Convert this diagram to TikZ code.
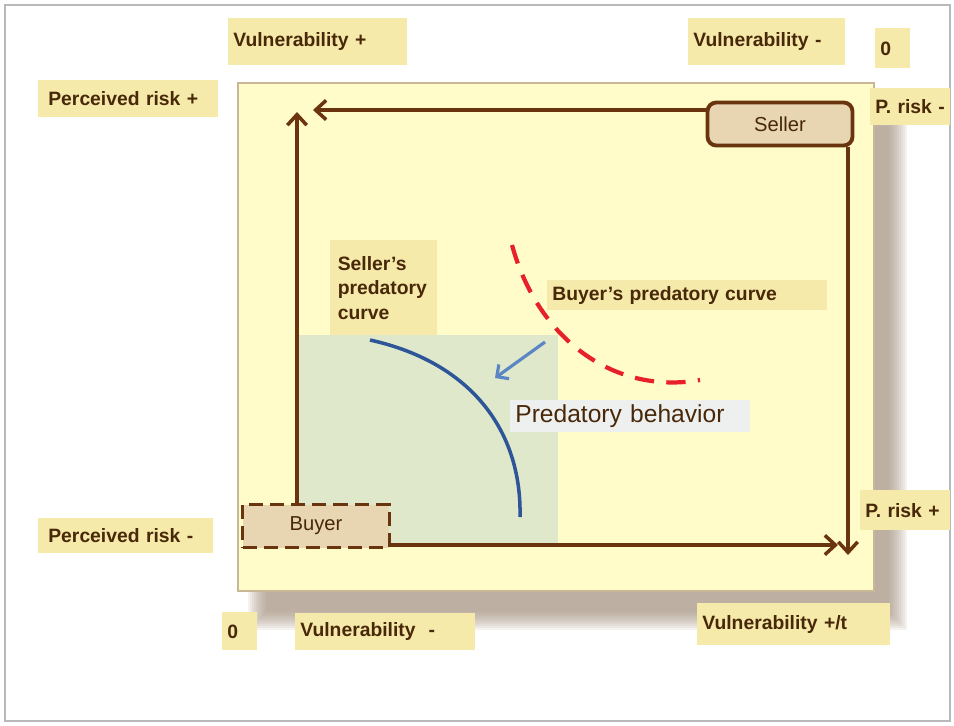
\documentclass[tikz,border=0pt]{standalone}
\usepackage{fontspec}
\setmainfont{Liberation Sans}
\usetikzlibrary{arrows.meta}

\definecolor{darkbrown}{RGB}{105,52,14}
\definecolor{textbrown}{RGB}{72,40,8}
\definecolor{tagyellow}{RGB}{245,234,170}
\definecolor{paneyellow}{RGB}{255,252,202}
\definecolor{paneedge}{RGB}{200,184,150}
\definecolor{boxtan}{RGB}{232,213,178}
\definecolor{zonegreen}{RGB}{224,232,204}
\definecolor{curveblue}{RGB}{46,85,151}
\definecolor{arrowblue}{RGB}{91,134,197}
\definecolor{dashred}{RGB}{232,32,42}
\definecolor{behavgray}{RGB}{238,240,240}
\definecolor{shadowtone}{RGB}{160,140,122}

\begin{document}
\begin{tikzpicture}[x=0.02cm,y=-0.02cm]
            \tikzstyle{tag}=[fill=tagyellow,text=textbrown,anchor=north west,inner ysep=0pt,inner xsep=0.1cm,
                align=left,font=\bfseries\fontsize{11}{14}\selectfont];
            \tikzstyle{agent}=[draw=darkbrown,fill=boxtan,text=textbrown,line width=2.2pt,
                minimum height=0.86cm,font=\fontsize{11.5}{13}\selectfont];
            \tikzstyle{axis}=[draw=darkbrown,line width=2pt,-{Straight Barb[length=6pt,width=11pt,line width=2pt]}];
            \useasboundingbox (0,0) rectangle (954,725);
            \draw[gray!55,line width=1.2pt] (5,5) rectangle (950,721);
            % soft shadow under the pane
            \foreach \d in {0,...,9}
                \fill[shadowtone,opacity=0.11] (248+2*\d,108+2*\d) rectangle (907-2*\d,630-2*\d);
            \node[fill=paneyellow,draw=paneedge,line width=1pt,anchor=north west,
                minimum width=12.72cm,minimum height=10.16cm,inner sep=0pt] (pane) at (237,82) {};
            \fill[zonegreen] (297,335) rectangle (558,545);
            % labels round the pane
            \node[tag,text width=3.38cm,minimum height=0.94cm] (vulTopL) at (228,18) {Vulnerability +};
            \node[tag,text width=2.94cm,minimum height=0.94cm] (vulTopR) at (688,18) {Vulnerability -};
            \node[tag,text width=0.5cm,minimum height=0.8cm] (zeroTop) at (875,28) {0};
            \node[tag,text width=3.2cm,minimum height=0.74cm,inner xsep=0.2cm] (riskTopL) at (38,80) {Perceived risk +};
            \node[tag,text width=1.4cm,minimum height=0.74cm] (riskTopR) at (870,88) {P. risk -};
            \node[tag,text width=1.6cm,minimum height=0.8cm] (riskBotR) at (860,490) {P. risk +};
            \node[tag,text width=3.1cm,minimum height=0.7cm,inner xsep=0.2cm] (riskBotL) at (38,518) {Perceived risk -};
            \node[tag,text width=0.5cm,minimum height=0.76cm] (zeroBot) at (222,612) {0};
            \node[tag,text width=3.4cm,minimum height=0.74cm] (vulBotL) at (295,613) {Vulnerability \ -};
            \node[tag,text width=3.66cm,minimum height=0.84cm] (vulBotR) at (697,603) {Vulnerability +/t};
            % labels on the pane
            \node[tag,text width=1.84cm,minimum height=1.9cm,inner xsep=0.15cm] (sellerCurve) at (330,240)
                {Seller's\\predatory\\curve};
            \node[tag,text width=5.4cm,minimum height=0.6cm] (buyerCurve) at (547,280) {Buyer's predatory curve};
            \node[fill=behavgray,text=textbrown,anchor=north west,inner ysep=0pt,inner xsep=0.1cm,
                text width=4.6cm,minimum height=0.64cm,font=\fontsize{14}{16}\selectfont]
                (behaviour) at (510,400) {Predatory behavior};
            % the two agents
            \node[agent,rounded corners=5pt,minimum width=2.9cm] (Seller) at (780,124) {Seller};
            \node[agent,dashed,dash pattern=on 8pt off 4pt,minimum width=2.94cm] (Buyer) at (316,526) {Buyer};
            \coordinate (topTip) at (313,110);
            \coordinate (leftTip) at (297,112);
            \coordinate (rightTip) at (848,555);
            \coordinate (botTip) at (838,545);
            \draw[axis] (Seller.west |- topTip) -- (topTip);
            \draw[axis] (Buyer.north -| leftTip) -- (leftTip);
            \draw[axis] (Seller.south -| rightTip) -- (rightTip);
            \draw[axis] (Buyer.east |- botTip) -- (botTip);
            % the curves
            \draw[curveblue,line width=2pt] (370,340) .. controls (470,362) and (522,430) .. (520,517);
            \draw[dashred,line width=2.4pt,dash pattern=on 11pt off 7pt] (512,245) .. controls (538,340) and (615,395) .. (700,380);
            \coordinate (pushFrom) at (545,342);
            \coordinate (pushTo) at (495,378);
            \draw[arrowblue,line width=1.8pt,-{Straight Barb[length=5pt,width=10pt,line width=1.8pt]}] (pushFrom) -- (pushTo);
\end{tikzpicture}
\end{document}
